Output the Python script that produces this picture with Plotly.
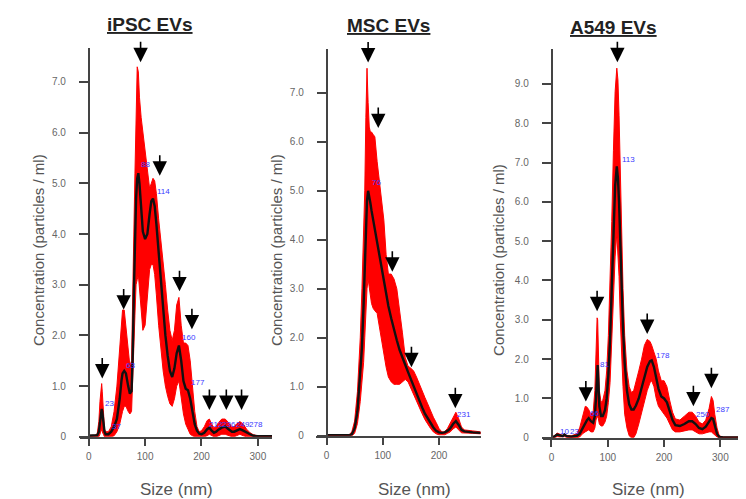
import numpy as np
import plotly.graph_objects as go

FONT = "Liberation Sans, Arial, sans-serif"

# ---------------- data ----------------
panel_titles = ["iPSC EVs", "MSC EVs", "A549 EVs"]
x_title = "Size (nm)"
y_title = "Concentration (particles / ml)"

ipsc_size = [0, 10, 15, 18, 20, 22, 23, 24, 26, 28, 30, 35, 40, 45, 50, 55, 58, 60, 63, 66,
             70, 73, 76, 78, 80, 82, 84, 86, 88, 90, 93, 96, 100, 104, 108, 111, 114, 117, 120, 124,
             128, 132, 136, 140, 144, 148, 152, 156, 160, 164, 168, 172, 176, 180, 184, 188, 192, 196, 200, 205,
             210, 214, 218, 222, 226, 230, 236, 242, 248, 254, 258, 262, 268, 274, 280, 286, 292, 300, 325]
ipsc_mean = [0.02, 0.02, 0.03, 0.1, 0.3, 0.5, 0.55, 0.5, 0.25, 0.1,
             0.05, 0.05, 0.1, 0.2, 0.35, 0.75, 1.1, 1.25, 1.3, 1.25,
             1.0, 0.85, 0.9, 1.6, 2.8, 3.9, 4.7, 5.1, 5.2, 5.0,
             4.5, 4.05, 3.9, 4.0, 4.4, 4.65, 4.7, 4.55, 4.2, 3.6,
             3.0, 2.5, 2.0, 1.6, 1.3, 1.18, 1.35, 1.65, 1.8, 1.5,
             1.1, 0.95, 0.92, 0.75, 0.5, 0.25, 0.12, 0.06, 0.05, 0.08,
             0.15, 0.18, 0.12, 0.08, 0.1, 0.14, 0.18, 0.2, 0.15, 0.1,
             0.1, 0.12, 0.15, 0.12, 0.08, 0.05, 0.02, 0.01, 0.01]
ipsc_upper = [0.03, 0.03, 0.05, 0.3, 0.7, 1.05, 1.05, 0.9, 0.4, 0.15,
              0.1, 0.1, 0.2, 0.5, 1.0, 1.8, 2.3, 2.5, 2.5, 2.2,
              1.7, 1.4, 1.5, 2.5, 4.0, 5.2, 6.3, 7.3, 7.2, 6.7,
              6.3, 6.0, 5.6, 5.2, 4.9, 5.0, 5.1, 5.05, 4.8, 4.3,
              3.9, 3.5, 3.0, 2.5, 2.1, 1.9, 2.1, 2.6, 2.75, 2.2,
              1.85, 1.85, 1.8, 1.5, 1.0, 0.5, 0.2, 0.1, 0.12, 0.2,
              0.32, 0.35, 0.25, 0.18, 0.2, 0.28, 0.35, 0.35, 0.28, 0.2,
              0.2, 0.25, 0.3, 0.25, 0.15, 0.08, 0.04, 0.02, 0.02]
ipsc_lower = [0, 0, 0, 0, 0.05, 0.15, 0.15, 0.1, 0.05, 0,
              0, 0, 0, 0.02, 0.1, 0.25, 0.4, 0.5, 0.6, 0.6,
              0.5, 0.45, 0.5, 0.9, 1.6, 2.4, 3.0, 3.1, 3.2, 3.0,
              2.5, 2.1, 2.2, 2.8, 3.3, 3.4, 3.4, 3.2, 2.8, 2.2,
              1.7, 1.3, 1.0, 0.8, 0.65, 0.6, 0.75, 1.0, 1.1, 0.8,
              0.45, 0.25, 0.15, 0.05, 0.02, 0, 0, 0, 0, 0,
              0.02, 0.05, 0.02, 0, 0, 0.02, 0.05, 0.05, 0.02, 0,
              0, 0.02, 0.05, 0.02, 0, 0, 0, 0, 0]

msc_size = [0, 20, 40, 45, 50, 55, 60, 63, 66, 68, 70, 72, 74, 76, 78, 80, 83, 86, 90, 94,
            98, 102, 106, 110, 115, 120, 125, 130, 135, 140, 145, 150, 155, 160, 165, 170, 175, 180, 185, 190,
            195, 200, 205, 210, 215, 220, 225, 230, 235, 240, 245, 250, 260, 274]
msc_mean = [0.01, 0.01, 0.01, 0.03, 0.15, 0.5, 1.25, 1.8, 2.7, 3.4,
            4.2, 4.8, 5.0, 4.9, 4.75, 4.6, 4.4, 4.2, 3.95, 3.7,
            3.4, 3.15, 2.9, 2.65, 2.4, 2.15, 1.95, 1.75, 1.58, 1.45,
            1.3, 1.15, 1.0, 0.85, 0.72, 0.58, 0.45, 0.35, 0.25, 0.17,
            0.1, 0.07, 0.06, 0.07, 0.1, 0.15, 0.24, 0.3, 0.22, 0.12,
            0.09, 0.08, 0.07, 0.06]
msc_upper = [0.02, 0.02, 0.02, 0.08, 0.3, 0.9, 2.0, 3.0, 4.3, 5.0,
             6.5, 7.5, 6.8, 6.3, 6.2, 6.2, 6.15, 6.1, 5.6, 5.2,
             4.8, 4.4, 3.7, 3.3, 3.3, 3.2, 3.0, 2.6, 2.1, 1.6,
             1.42, 1.38, 1.32, 1.2, 1.05, 0.9, 0.78, 0.65, 0.5, 0.38,
             0.27, 0.15, 0.08, 0.08, 0.15, 0.25, 0.38, 0.48, 0.35, 0.18,
             0.12, 0.11, 0.1, 0.08]
msc_lower = [0, 0, 0, 0, 0.05, 0.25, 0.7, 1.0, 1.5, 2.0,
             2.6, 3.0, 3.2, 3.1, 2.9, 2.7, 2.6, 2.55, 2.5, 2.3,
             2.0, 1.7, 1.4, 1.2, 1.1, 1.05, 1.05, 1.05, 1.1, 1.15,
             1.1, 0.98, 0.85, 0.7, 0.58, 0.45, 0.33, 0.24, 0.15, 0.08,
             0.04, 0.02, 0.02, 0.02, 0.05, 0.08, 0.14, 0.18, 0.12, 0.06,
             0.05, 0.05, 0.05, 0.04]

a549_size = [0, 5, 10, 15, 20, 23, 27, 35, 45, 50, 55, 60, 63, 66, 70, 74, 77, 79, 81, 82,
             83, 85, 88, 91, 95, 98, 101, 104, 107, 110, 113, 116, 118, 120, 122, 124, 127, 130, 134, 138,
             142, 146, 150, 155, 160, 165, 170, 175, 178, 182, 186, 190, 195, 200, 205, 210, 215, 220, 228, 236,
             244, 250, 256, 262, 268, 274, 280, 284, 287, 290, 294, 298, 305, 350]
a549_mean = [0.02, 0.03, 0.08, 0.05, 0.04, 0.08, 0.04, 0.03, 0.05, 0.1,
             0.25, 0.4, 0.45, 0.5, 0.42, 0.38, 0.55, 1.0, 1.7, 1.85,
             1.5, 0.8, 0.55, 0.55, 0.7, 1.0, 1.6, 2.5, 3.8, 5.2,
             6.4, 6.9, 6.6, 6.0, 5.0, 4.0, 2.8, 1.9, 1.2, 0.85,
             0.72, 0.72, 0.82, 1.0, 1.25, 1.55, 1.8, 1.95, 1.97, 1.8,
             1.5, 1.25, 1.05, 1.0, 0.9, 0.65, 0.45, 0.32, 0.3, 0.35,
             0.42, 0.42, 0.35, 0.25, 0.22, 0.28, 0.4, 0.5, 0.48, 0.3,
             0.1, 0.02, 0.01, 0.01]
a549_upper = [0.03, 0.05, 0.12, 0.08, 0.06, 0.1, 0.06, 0.05, 0.1, 0.25,
              0.55, 0.8, 0.78, 0.72, 0.6, 0.65, 1.2, 2.4, 3.05, 3.0,
              2.2, 1.2, 0.9, 0.95, 1.2, 1.7, 2.6, 3.8, 5.5, 7.3,
              8.8, 9.4, 9.1, 8.2, 6.8, 5.4, 3.8, 2.6, 1.7, 1.3,
              1.15, 1.2, 1.4, 1.7, 2.0, 2.35, 2.5, 2.45, 2.35, 2.2,
              2.0, 1.7, 1.45, 1.45, 1.3, 0.95, 0.65, 0.48, 0.45, 0.55,
              0.65, 0.65, 0.55, 0.4, 0.35, 0.45, 0.75, 1.05, 0.95, 0.6,
              0.25, 0.05, 0.02, 0.02]
a549_lower = [0, 0, 0.03, 0.02, 0.02, 0.03, 0.01, 0, 0, 0.02,
              0.1, 0.15, 0.18, 0.2, 0.15, 0.15, 0.25, 0.45, 0.55, 0.55,
              0.5, 0.35, 0.3, 0.3, 0.4, 0.55, 0.9, 1.4, 2.3, 3.6,
              4.6, 5.2, 4.9, 4.1, 3.1, 2.2, 1.3, 0.6, 0.25, 0.05,
              0, 0, 0.1, 0.35, 0.6, 0.9, 1.2, 1.4, 1.45, 1.3,
              1.0, 0.8, 0.7, 0.6, 0.5, 0.35, 0.2, 0.15, 0.15, 0.18,
              0.2, 0.2, 0.15, 0.1, 0.1, 0.12, 0.15, 0.15, 0.12, 0.08,
              0.02, 0, 0, 0]

# peak arrows (size, tip concentration)
ipsc_arrow_x = [24, 62, 92, 126, 161, 183, 214, 244, 271]
ipsc_arrow_y = [1.15, 2.51, 7.39, 5.15, 2.87, 2.12, 0.53, 0.53, 0.53]
msc_arrow_x = [74, 92, 117, 151, 229]
msc_arrow_y = [7.62, 6.28, 3.35, 1.4, 0.56]
a549_arrow_x = [61, 81, 117, 170, 252, 284]
a549_arrow_y = [0.92, 3.22, 9.55, 2.64, 0.8, 1.26]

# peak labels (text, size, concentration)
ipsc_label_text = ["23", "37", "63", "88", "114", "160", "177", "212", "236", "249", "278"]
ipsc_label_x = [26, 38, 62, 90, 117, 162, 178, 209, 233, 257, 281]
ipsc_label_y = [0.66, 0.21, 1.41, 5.37, 4.84, 1.96, 1.07, 0.24, 0.24, 0.24, 0.24]
msc_label_text = ["76", "231"]
msc_label_x = [77, 229]
msc_label_y = [5.17, 0.43]
a549_label_text = ["10", "23", "66", "81", "113", "178", "250", "287"]
a549_label_x = [11, 29, 64, 83, 121, 182, 253, 288]
a549_label_y = [0.17, 0.17, 0.62, 1.87, 7.08, 2.09, 0.6, 0.71]

ipsc_yticks = [0, 1, 2, 3, 4, 5, 6, 7]
msc_yticks = [0, 1, 2, 3, 4, 5, 6, 7]
a549_yticks = [0, 1, 2, 3, 4, 5, 6, 7, 8, 9]
ipsc_xticks = [0, 100, 200, 300]
msc_xticks = [0, 100, 200]
a549_xticks = [0, 100, 200, 300]

# ---------------- layout geometry (pixels) ----------------
W, H = 746, 499
panels = [
    dict(size=ipsc_size, mean=ipsc_mean, up=ipsc_upper, lo=ipsc_lower,
         ax=ipsc_arrow_x, ay=ipsc_arrow_y, lt=ipsc_label_text, lx=ipsc_label_x, ly=ipsc_label_y,
         yt=ipsc_yticks, xt=ipsc_xticks, xr=[-16, 325], x0=80.7, ppx=0.564,
         y0=434, ytop=40, ppy=51.3, title_x=142, title_y=17, ytitle_x=30, ytitle_y=245,
         xtitle_x=168),
    dict(size=msc_size, mean=msc_mean, up=msc_upper, lo=msc_lower,
         ax=msc_arrow_x, ay=msc_arrow_y, lt=msc_label_text, lx=msc_label_x, ly=msc_label_y,
         yt=msc_yticks, xt=msc_xticks, xr=[-19, 274], x0=318.5, ppx=0.5625,
         y0=433, ytop=42, ppy=49.6, title_x=380, title_y=18, ytitle_x=268, ytitle_y=245,
         xtitle_x=406),
    dict(size=a549_size, mean=a549_mean, up=a549_upper, lo=a549_lower,
         ax=a549_arrow_x, ay=a549_arrow_y, lt=a549_label_text, lx=a549_label_x, ly=a549_label_y,
         yt=a549_yticks, xt=a549_xticks, xr=[-15, 350], x0=543.5, ppx=0.563,
         y0=435, ytop=42, ppy=39.8, title_x=605, title_y=20, ytitle_x=491, ytitle_y=255,
         xtitle_x=640),
]

fig = go.Figure()
annotations = []
layout_axes = {}
AX_COL = "#444444"
TICK_COL = "#666666"

for i, p in enumerate(panels):
    n = "" if i == 0 else str(i + 1)
    xs = np.array(p["size"], dtype=float)
    up = np.array(p["up"], dtype=float)
    lo = np.array(p["lo"], dtype=float)
    fig.add_trace(go.Scatter(
        x=np.concatenate([xs, xs[::-1]]), y=np.concatenate([up, lo[::-1]]),
        fill="toself", fillcolor="#ff0000", line=dict(color="#ff0000", width=1),
        mode="lines", hoverinfo="skip", showlegend=False,
        xaxis="x" + n, yaxis="y" + n))
    fig.add_trace(go.Scatter(
        x=p["size"], y=p["mean"], mode="lines",
        line=dict(color="#111111", width=2.4), showlegend=False,
        xaxis="x" + n, yaxis="y" + n))

    xl = p["x0"] + p["xr"][0] * p["ppx"]
    xrgt = p["x0"] + p["xr"][1] * p["ppx"]
    ytop_val = (p["y0"] - p["ytop"]) / p["ppy"]
    layout_axes["xaxis" + n] = dict(
        domain=[xl / W, xrgt / W], range=p["xr"], anchor="y" + n,
        showgrid=False, zeroline=False, showline=True, linecolor=AX_COL, linewidth=1.5,
        ticks="outside", ticklen=7, tickwidth=1.5, tickcolor=AX_COL,
        tickvals=p["xt"], ticktext=[str(v) for v in p["xt"]],
        tickfont=dict(family=FONT, size=10, color=TICK_COL), ticklabelstandoff=2)
    layout_axes["yaxis" + n] = dict(
        domain=[(H - p["y0"]) / H, (H - p["ytop"]) / H], range=[0, ytop_val],
        anchor="free", position=p["x0"] / W,
        showgrid=False, zeroline=False, showline=True, linecolor=AX_COL, linewidth=1.5,
        ticks="outside", ticklen=9, tickwidth=1.5, tickcolor=AX_COL,
        tickvals=p["yt"], ticktext=["0" if v == 0 else f"{v:.1f}" for v in p["yt"]],
        tickfont=dict(family=FONT, size=10, color=TICK_COL), ticklabelstandoff=11)

    for axx, ayy in zip(p["ax"], p["ay"]):
        annotations.append(dict(
            x=axx, y=ayy, xref="x" + n, yref="y" + n, text="", showarrow=True,
            ax=0, ay=-22, arrowhead=2, arrowsize=1.8, arrowwidth=1.6, arrowcolor="black"))
    for t, lx, ly in zip(p["lt"], p["lx"], p["ly"]):
        annotations.append(dict(
            x=lx, y=ly, xref="x" + n, yref="y" + n, text=t, showarrow=False,
            xanchor="left", yanchor="middle",
            font=dict(family=FONT, size=8, color="#3a3aff")))

    annotations.append(dict(
        x=p["title_x"] / W, y=1 - p["title_y"] / H, xref="paper", yref="paper",
        text="<b><u>" + panel_titles[i] + "</u></b>", showarrow=False,
        xanchor="center", yanchor="middle",
        font=dict(family=FONT, size=19, color="#222222")))
    annotations.append(dict(
        x=p["xtitle_x"] / W, y=1 - 487 / H, xref="paper", yref="paper",
        text=x_title, showarrow=False, xanchor="center", yanchor="middle",
        font=dict(family=FONT, size=17, color="#555555")))
    annotations.append(dict(
        x=p["ytitle_x"] / W, y=1 - p["ytitle_y"] / H, xref="paper", yref="paper",
        text=y_title, showarrow=False, textangle=-90, xanchor="center", yanchor="middle",
        font=dict(family=FONT, size=15, color="#555555")))

fig.update_layout(
    width=W, height=H, margin=dict(l=0, r=0, t=0, b=0),
    paper_bgcolor="white", plot_bgcolor="white",
    annotations=annotations, showlegend=False, **layout_axes)

fig.write_html("out.html")
